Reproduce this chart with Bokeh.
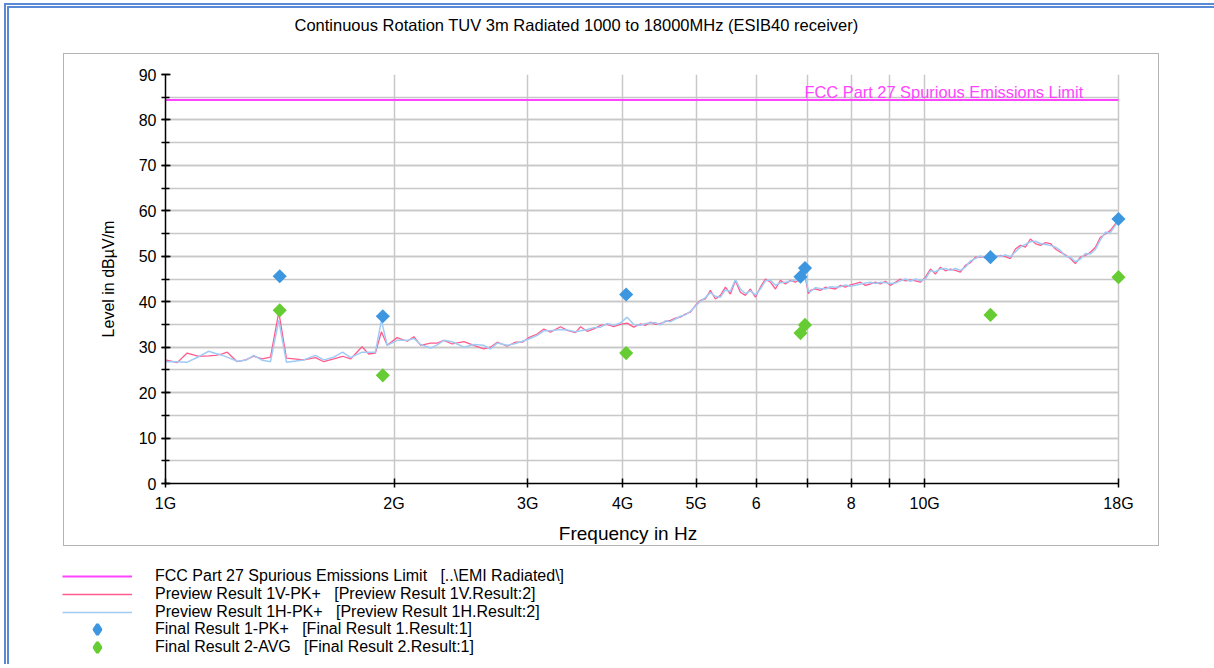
import numpy as np
from bokeh.plotting import figure
from bokeh.layouts import column
from bokeh.models import (Range1d, FixedTicker, SingleIntervalTicker, Label,
                          Legend, LegendItem)
from bokeh.embed import file_html
from bokeh.resources import INLINE

FONT = "Liberation Sans"

title_text = "Continuous Rotation TUV 3m Radiated 1000 to 18000MHz (ESIB40 receiver)"
x_label = "Frequency in Hz"
y_label = "Level in dB\u00b5V/m"

x_tick_values = [1000, 2000, 3000, 4000, 5000, 6000, 7000, 8000, 9000, 10000, 18000]
x_tick_labels = ["1G", "2G", "3G", "4G", "5G", "6", "", "8", "", "10G", "18G"]

limit_name = "FCC Part 27 Spurious Emissions Limit"
limit_freq = [1000, 18000]
limit_level = [84.4, 84.4]

freq_mhz = [
    1000, 1036, 1068, 1106, 1140, 1164, 1188, 1206, 1243, 1275,
    1307, 1341, 1375, 1410, 1443, 1521, 1576, 1616, 1666, 1711,
    1753, 1815, 1852, 1890, 1925, 1959, 2019, 2082, 2124, 2168,
    2234, 2280, 2326, 2386, 2472, 2547, 2626, 2680, 2735, 2819,
    2891, 2951, 3010, 3088, 3150, 3215, 3314, 3382, 3468, 3521,
    3593, 3666, 3741, 3817, 3894, 3974, 4056, 4138, 4222,
    4287, 4352, 4419, 4486, 4555, 4625, 4695, 4767, 4840, 4914,
    4989, 5065, 5142, 5221, 5301, 5382, 5464, 5547, 5632, 5718,
    5806, 5894, 5984, 6076, 6169, 6263, 6359, 6456, 6555, 6655,
    6757, 6860, 6965, 7028, 7071, 7179, 7289, 7400, 7513, 7628,
    7745, 7863, 7984, 8106, 8229, 8355, 8483, 8612, 8744, 8877,
    9013, 9151, 9291, 9433, 9577, 9723, 9872, 10023, 10176, 10331,
    10489, 10649, 10812, 10977, 11145, 11315, 11488, 11664, 11842, 12023,
    12207, 12393, 12583, 12775, 12970, 13168, 13369, 13574, 13781, 13992,
    14205, 14422, 14643, 14866, 15094, 15324, 15558, 15796, 16037, 16282,
    16531, 16784, 17040, 17300, 17565, 17833, 18000,
]

level_1v = [
    27.2, 26.6, 28.7, 28.0, 28.1, 28.2, 28.5, 28.9, 26.8, 27.2,
    28.0, 27.4, 27.8, 37.7, 27.6, 27.2, 27.7, 26.8, 27.4, 28.0,
    27.4, 30.1, 28.5, 28.7, 33.4, 30.4, 32.1, 31.3, 32.3, 30.4,
    30.9, 30.9, 31.5, 30.7, 31.2, 30.4, 29.6, 30.0, 31.1, 30.2,
    31.1, 31.1, 32.1, 32.9, 34.0, 33.3, 34.5, 33.7, 33.2, 34.5,
    33.5, 34.0, 34.8, 35.0, 34.5, 35.0, 35.3, 34.4, 35.1,
    34.8, 35.5, 35.0, 35.2, 35.6, 35.9, 36.4, 36.6, 37.3, 37.7,
    39.2, 40.3, 40.6, 42.5, 40.6, 41.4, 43.2, 41.7, 44.6, 42.1,
    41.4, 42.8, 41.0, 43.2, 45.0, 44.3, 42.8, 44.7, 43.9, 44.7,
    44.3, 45.0, 45.2, 41.8, 42.5, 42.8, 42.5, 43.2, 43.0, 42.8,
    43.6, 43.2, 43.7, 44.0, 44.3, 43.6, 43.9, 44.3, 43.9, 44.5,
    43.6, 44.3, 45.0, 44.6, 44.8, 44.6, 44.3, 45.4, 47.2, 46.1,
    47.6, 46.8, 47.2, 46.9, 46.5, 48.0, 48.6, 49.8, 49.8, 49.9,
    49.5, 49.9, 50.2, 49.9, 49.5, 51.6, 52.4, 52.0, 53.8, 52.8,
    52.4, 53.0, 52.8, 51.6, 50.9, 50.3, 49.5, 48.4, 49.8, 50.2,
    50.9, 52.0, 54.2, 54.9, 55.7, 57.1, 58.1,
]

level_1h = [
    26.8, 26.8, 26.7, 27.9, 29.1, 28.6, 28.2, 27.8, 26.9, 27.1,
    28.2, 27.1, 26.8, 35.9, 26.7, 27.2, 28.2, 27.2, 27.8, 28.9,
    27.7, 28.9, 28.9, 28.9, 35.9, 30.4, 31.5, 31.5, 31.9, 30.6,
    29.8, 30.5, 31.5, 31.2, 30.0, 30.6, 30.4, 29.6, 30.9, 30.4,
    30.8, 31.3, 31.8, 32.6, 33.6, 33.6, 33.9, 33.8, 33.4, 33.6,
    33.9, 34.3, 34.4, 35.2, 34.8, 35.3, 36.6, 35.0, 34.8,
    35.2, 35.3, 35.4, 34.9, 35.8, 35.6, 36.2, 36.8, 37.1, 37.9,
    39.0, 40.1, 40.9, 42.0, 41.2, 41.0, 42.6, 42.3, 44.9, 42.8,
    41.8, 42.4, 41.5, 42.8, 44.6, 44.8, 43.6, 44.2, 44.3, 44.5,
    44.8, 45.3, 45.6, 42.3, 42.2, 43.1, 42.9, 42.8, 43.3, 43.2,
    43.3, 43.7, 43.4, 43.6, 43.9, 44.1, 44.3, 44.0, 44.3, 44.2,
    44.0, 44.1, 44.6, 45.0, 44.5, 45.0, 44.6, 45.0, 46.8, 46.6,
    47.2, 47.3, 46.9, 47.3, 46.9, 47.6, 49.0, 49.5, 50.1, 49.6,
    49.8, 50.2, 50.0, 50.3, 49.9, 51.0, 52.0, 52.6, 53.2, 53.3,
    52.8, 52.6, 52.4, 52.0, 51.3, 50.0, 49.8, 48.8, 49.4, 50.6,
    50.5, 51.5, 53.6, 55.3, 55.2, 56.8, 57.9,
]

final_freq = [1414, 1933, 4044, 6862, 6956, 12209, 18000]
final_pk_level = [45.6, 36.8, 41.6, 45.5, 47.4, 49.8, 58.2]
final_avg_level = [38.1, 23.8, 28.7, 33.1, 34.9, 37.1, 45.4]

legend_labels = [
    "FCC Part 27 Spurious Emissions Limit\u00a0\u00a0 [..\\EMI Radiated\\]",
    "Preview Result 1V-PK+\u00a0\u00a0 [Preview Result 1V.Result:2]",
    "Preview Result 1H-PK+\u00a0\u00a0 [Preview Result 1H.Result:2]",
    "Final Result 1-PK+\u00a0\u00a0 [Final Result 1.Result:1]",
    "Final Result 2-AVG\u00a0\u00a0 [Final Result 2.Result:1]",
]

PK_COLOR = "#3d97e0"
AVG_COLOR = "#66cc33"
LIM_STYLE = dict(line_color="#ff44ff", line_width=2)
V_STYLE = dict(line_color="#ff5c8e", line_width=1.3)
H_STYLE = dict(line_color="#9fcbf5", line_width=1.5)
PK_STYLE = dict(marker="square", angle=np.pi / 4, size=10, fill_color=PK_COLOR, line_color=None)
AVG_STYLE = dict(marker="square", angle=np.pi / 4, size=10, fill_color=AVG_COLOR, line_color=None)


def blank(w, h):
    f = figure(width=w, height=h, output_backend="svg", toolbar_location=None,
               x_axis_location=None, y_axis_location=None,
               x_range=Range1d(0, 1), y_range=Range1d(0, 1),
               min_border=0, min_border_left=0, min_border_right=0,
               min_border_top=0, min_border_bottom=0, frame_align=False,
               outline_line_color=None,
               background_fill_color=None, border_fill_color=None)
    f.grid.visible = False
    return f


# ---------------------------------------------------------------- title strip
head = blank(1205, 45)
head.add_layout(Label(x=567, y=29, x_units="screen", y_units="screen",
                      text=title_text, text_align="center", text_baseline="middle",
                      text_font=FONT, text_font_size="16.5px", text_color="black"))

# ---------------------------------------------------------------- main chart
p = figure(width=1096, height=493, x_axis_type="log",
           x_range=Range1d(1000, 18500), y_range=Range1d(0, 90),
           output_backend="svg", toolbar_location=None,
           min_border_left=102, min_border_right=32,
           min_border_top=21, min_border_bottom=63, frame_align=False,
           background_fill_color="white", border_fill_color=None,
           outline_line_color=None, margin=(0, 0, 0, 54),
           styles={"outline": "1.5px solid #b4b4b4", "outline-offset": "-1.5px"})

xa = p.xaxis[0]
xa.ticker = FixedTicker(ticks=x_tick_values, minor_ticks=[])
xa.major_label_overrides = {v: t for v, t in zip(x_tick_values, x_tick_labels)}
xa.bounds = (1000, 18000)
xa.major_label_standoff = 7
xa.axis_label = x_label + "\u00a0" * 7
xa.axis_label_standoff = 8
xa.axis_label_text_font_size = "19px"

ya = p.yaxis[0]
ya.ticker = SingleIntervalTicker(interval=10, num_minor_ticks=2)
ya.major_label_standoff = 5
ya.axis_label = y_label
ya.axis_label_standoff = 19
ya.axis_label_text_font_size = "16px"

for ax in (xa, ya):
    ax.axis_line_color = "black"
    ax.axis_line_width = 1.5
    ax.major_tick_line_color = "black"
    ax.major_tick_line_width = 1.5
    ax.major_tick_in = 5
    ax.major_tick_out = 4
    ax.minor_tick_line_color = "black"
    ax.minor_tick_line_width = 1.5
    ax.minor_tick_in = 4
    ax.minor_tick_out = 4
    ax.major_label_text_font = FONT
    ax.major_label_text_font_size = "16px"
    ax.major_label_text_color = "black"
    ax.axis_label_text_font = FONT
    ax.axis_label_text_font_style = "normal"
    ax.axis_label_text_color = "black"

p.xgrid.grid_line_color = "#c8c8c8"
p.xgrid.grid_line_width = 1.5
p.ygrid.grid_line_color = "#c8c8c8"
p.ygrid.grid_line_width = 1.5
p.ygrid.minor_grid_line_color = "#c8c8c8"
p.ygrid.minor_grid_line_width = 1.5
p.ygrid.cross_bounds = (1000, 18000)

p.line(limit_freq, limit_level, **LIM_STYLE)
p.line(freq_mhz, level_1v, **V_STYLE)
p.line(freq_mhz, level_1h, **H_STYLE)
p.scatter(final_freq, final_pk_level, **PK_STYLE)
p.scatter(final_freq, final_avg_level, **AVG_STYLE)

p.add_layout(Label(x=6945, y=84.4, text=limit_name, text_color="#ff44ff",
                   text_font=FONT, text_font_size="16.4px",
                   text_baseline="alphabetic", y_offset=8))

# ---------------------------------------------------------------- legend strip
# The legend strip reuses the same series; its 0..1 view leaves them out of sight,
# so only the legend samples are drawn.
foot = blank(700, 118)
g_lim = foot.line(limit_freq, limit_level, **LIM_STYLE)
g_v = foot.line(freq_mhz, level_1v, **V_STYLE)
g_h = foot.line(freq_mhz, level_1h, **H_STYLE)
g_pk = foot.scatter(final_freq, final_pk_level, marker="diamond", size=10,
                    fill_color=PK_COLOR, line_color=PK_COLOR, line_width=3)
g_avg = foot.scatter(final_freq, final_avg_level, marker="diamond", size=10,
                     fill_color=AVG_COLOR, line_color=AVG_COLOR, line_width=3)

entries = [(g_lim, 18), (g_v, 18), (g_h, 18), (g_pk, 26), (g_avg, 26)]
row_pitch = 17.75
first_center = 88  # px above the strip's bottom edge
for i, ((rend, gh), lab) in enumerate(zip(entries, legend_labels)):
    center = first_center - i * row_pitch
    lg = Legend(items=[LegendItem(label=lab, renderers=[rend])],
                location=(53, center - gh / 2), orientation="vertical",
                padding=0, margin=0, spacing=0,
                glyph_width=70, glyph_height=gh, label_height=gh,
                label_standoff=23, label_text_font=FONT,
                label_text_font_size="16px", label_text_color="black",
                border_line_color=None, background_fill_alpha=0)
    foot.add_layout(lg)

root = column(head, p, foot, spacing=0, margin=(3, 0, 0, 4),
              styles={"border-top": "5px double #5a8ad6",
                      "border-left": "5px double #5a8ad6"})

open("out.html", "w").write(file_html(root, INLINE))
